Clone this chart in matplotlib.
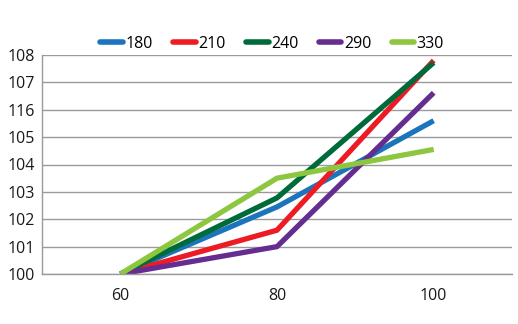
import matplotlib.pyplot as plt
from matplotlib.ticker import FixedLocator, FixedFormatter

# categories on the x axis
categories = ['60', '80', '100']

# one series per legend entry
s180 = [100, 102.45, 105.6]
s210 = [100, 101.6, 107.8]
s240 = [100, 102.78, 107.72]
s290 = [100, 101.0, 106.62]
s330 = [100, 103.5, 104.55]

series_names = ['180', '210', '240', '290', '330']
series_colors = ['#1c75bc', '#ed1c24', '#006b3a', '#662d91', '#8dc63f']

# y tick labels as printed on the chart
y_ticks = [100, 101, 102, 103, 104, 105, 106, 107, 108]
y_labels = ['100', '101', '102', '103', '104', '105', '116', '107', '108']

plt.rcParams['font.family'] = ['Open Sans', 'DejaVu Sans']

fig = plt.figure(figsize=(5.18, 3.24), dpi=100)
ax = fig.add_axes([42 / 518, 50 / 324, 470 / 518, 219 / 324])

x = list(range(len(categories)))
for vals, name, col in zip([s180, s210, s240, s290, s330], series_names, series_colors):
    ax.plot(x, vals, color=col, lw=3.8, label=name, solid_capstyle='butt',
            solid_joinstyle='miter')

ax.set_xlim(-0.5, len(categories) - 0.5)
ax.set_ylim(100, 108)
ax.set_xticks(x)
ax.set_xticklabels(categories)
ax.yaxis.set_major_locator(FixedLocator(y_ticks))
ax.yaxis.set_major_formatter(FixedFormatter(y_labels))
ax.grid(axis='y', color='#9a9a9a', lw=1)
ax.set_axisbelow(True)
ax.tick_params(length=0, labelsize=11.5, colors='#1a1a1a', pad=5)
ax.tick_params(axis='x', pad=10)
for side in ['top', 'right']:
    ax.spines[side].set_visible(False)
for side in ['left', 'bottom']:
    ax.spines[side].set_color('#9a9a9a')
    ax.spines[side].set_linewidth(1)

leg = ax.legend(loc='lower center', bbox_to_anchor=(0.49, 0.985), ncol=5, frameon=False,
                fontsize=11.5, handlelength=1.4, handletextpad=0.15, columnspacing=1.3,
                borderaxespad=0.0)
for line in leg.get_lines():
    line.set_solid_capstyle('round')
    line.set_linewidth(4)

fig.savefig('out.png', dpi=100)
